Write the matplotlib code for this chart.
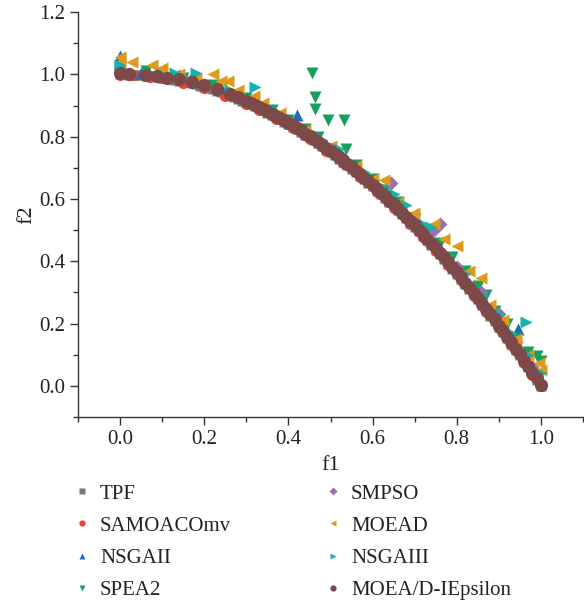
import matplotlib
matplotlib.use("Agg")
import matplotlib.pyplot as plt
from matplotlib.lines import Line2D
from matplotlib.ticker import MultipleLocator

plt.rcParams['font.family'] = ['Liberation Serif', 'DejaVu Serif']

# true Pareto front (TPF)
tpf_f1 = [0.00, 0.01, 0.02, 0.03, 0.04, 0.05, 0.06, 0.07, 0.08, 0.09,
          0.10, 0.11, 0.12, 0.13, 0.14, 0.15, 0.16, 0.17, 0.18, 0.19,
          0.20, 0.21, 0.22, 0.23, 0.24, 0.25, 0.26, 0.27, 0.28, 0.29,
          0.30, 0.31, 0.32, 0.33, 0.34, 0.35, 0.36, 0.37, 0.38, 0.39,
          0.40, 0.41, 0.42, 0.43, 0.44, 0.45, 0.46, 0.47, 0.48, 0.49,
          0.50, 0.51, 0.52, 0.53, 0.54, 0.55, 0.56, 0.57, 0.58, 0.59,
          0.60, 0.61, 0.62, 0.63, 0.64, 0.65, 0.66, 0.67, 0.68, 0.69,
          0.70, 0.71, 0.72, 0.73, 0.74, 0.75, 0.76, 0.77, 0.78, 0.79,
          0.80, 0.81, 0.82, 0.83, 0.84, 0.85, 0.86, 0.87, 0.88, 0.89,
          0.90, 0.91, 0.92, 0.93, 0.94, 0.95, 0.96, 0.97, 0.98, 0.99, 1.00]
tpf_f2 = [1.0000, 0.9999, 0.9996, 0.9991, 0.9984, 0.9975, 0.9964, 0.9951, 0.9936, 0.9919,
          0.9900, 0.9879, 0.9856, 0.9831, 0.9804, 0.9775, 0.9744, 0.9711, 0.9676, 0.9639,
          0.9600, 0.9559, 0.9516, 0.9471, 0.9424, 0.9375, 0.9324, 0.9271, 0.9216, 0.9159,
          0.9100, 0.9039, 0.8976, 0.8911, 0.8844, 0.8775, 0.8704, 0.8631, 0.8556, 0.8479,
          0.8400, 0.8319, 0.8236, 0.8151, 0.8064, 0.7975, 0.7884, 0.7791, 0.7696, 0.7599,
          0.7500, 0.7399, 0.7296, 0.7191, 0.7084, 0.6975, 0.6864, 0.6751, 0.6636, 0.6519,
          0.6400, 0.6279, 0.6156, 0.6031, 0.5904, 0.5775, 0.5644, 0.5511, 0.5376, 0.5239,
          0.5100, 0.4959, 0.4816, 0.4671, 0.4524, 0.4375, 0.4224, 0.4071, 0.3916, 0.3759,
          0.3600, 0.3439, 0.3276, 0.3111, 0.2944, 0.2775, 0.2604, 0.2431, 0.2256, 0.2079,
          0.1900, 0.1719, 0.1536, 0.1351, 0.1164, 0.0975, 0.0784, 0.0591, 0.0396, 0.0199, 0.0000]

samoaco_f1 = [0.00, 0.03, 0.07, 0.10, 0.15, 0.20, 0.25, 0.30, 0.33, 0.37,
              0.41, 0.45, 0.49, 0.53, 0.57, 0.61, 0.65, 0.69, 0.72, 0.75,
              0.78, 0.81, 0.84, 0.87, 0.90, 0.93, 0.96, 0.98, 1.00]
samoaco_f2 = [0.998, 0.997, 0.993, 0.987, 0.973, 0.955, 0.932, 0.905, 0.886, 0.858,
              0.827, 0.792, 0.755, 0.714, 0.670, 0.623, 0.572, 0.519, 0.477, 0.432,
              0.387, 0.339, 0.289, 0.238, 0.185, 0.130, 0.074, 0.036, 0.000]

nsgaii_f1 = [0.00, 0.00, 0.05, 0.12, 0.19, 0.24, 0.30, 0.36, 0.42, 0.44,
             0.50, 0.55, 0.60, 0.64, 0.68, 0.72, 0.76, 0.80, 0.84, 0.88,
             0.92, 0.945, 0.96, 0.98, 1.00]
nsgaii_f2 = [1.06, 1.04, 1.005, 0.995, 0.975, 0.955, 0.92, 0.885, 0.87, 0.82,
             0.765, 0.71, 0.655, 0.605, 0.555, 0.50, 0.44, 0.38, 0.315, 0.245,
             0.17, 0.183, 0.10, 0.06, 0.02]

spea2_f1 = [0.00, 0.06, 0.15, 0.22, 0.30, 0.36, 0.40, 0.44, 0.457, 0.462,
            0.464, 0.493, 0.531, 0.47, 0.536, 0.56, 0.60, 0.63, 0.66, 0.70,
            0.73, 0.76, 0.79, 0.82, 0.85, 0.87, 0.89, 0.92, 0.94, 0.97, 0.99, 1.00]
spea2_f2 = [1.02, 1.01, 0.99, 0.965, 0.925, 0.885, 0.855, 0.825, 1.006, 0.926,
            0.89, 0.852, 0.852, 0.80, 0.759, 0.71, 0.665, 0.63, 0.59, 0.535,
            0.50, 0.46, 0.415, 0.37, 0.32, 0.29, 0.24, 0.20, 0.15, 0.11, 0.095, 0.08]

smpso_f1 = [0.14, 0.17, 0.20, 0.28, 0.35, 0.41, 0.46, 0.52, 0.58, 0.643,
            0.70, 0.745, 0.76, 0.80, 0.857, 0.90, 0.94, 0.98]
smpso_f2 = [0.995, 0.985, 0.965, 0.93, 0.885, 0.84, 0.80, 0.745, 0.675, 0.65,
            0.53, 0.50, 0.52, 0.38, 0.30, 0.23, 0.14, 0.06]

moead_f1 = [0.00, 0.00, 0.029, 0.076, 0.10, 0.14, 0.18, 0.22, 0.24, 0.257,
            0.28, 0.317, 0.34, 0.38, 0.44, 0.50, 0.56, 0.60, 0.627, 0.66,
            0.698, 0.745, 0.77, 0.80, 0.83, 0.857, 0.88, 0.91, 0.94, 0.97,
            0.995, 1.00]
moead_f2 = [1.055, 1.04, 1.04, 1.03, 1.02, 1.00, 0.99, 1.00, 0.98, 0.978,
            0.95, 0.932, 0.907, 0.875, 0.82, 0.77, 0.705, 0.665, 0.662, 0.59,
            0.556, 0.52, 0.47, 0.45, 0.37, 0.347, 0.26, 0.21, 0.15, 0.10,
            0.074, 0.05]

nsgaiii_f1 = [0.00, 0.00, 0.10, 0.13, 0.18, 0.26, 0.321, 0.36, 0.42, 0.46,
              0.48, 0.52, 0.58, 0.62, 0.65, 0.68, 0.72, 0.74, 0.78, 0.82,
              0.86, 0.90, 0.93, 0.964, 0.97, 1.00]
nsgaiii_f2 = [1.03, 1.02, 1.00, 1.005, 1.003, 0.95, 0.961, 0.89, 0.84, 0.81,
              0.79, 0.76, 0.685, 0.64, 0.615, 0.58, 0.52, 0.51, 0.42, 0.36,
              0.29, 0.23, 0.17, 0.206, 0.10, 0.04]

moeadie_f1 = [0.00, 0.02, 0.06, 0.088, 0.11, 0.14, 0.17, 0.20, 0.23, 0.26,
              0.28, 0.30, 0.31, 0.32, 0.33, 0.34, 0.35, 0.36, 0.37, 0.38,
              0.39, 0.40, 0.41, 0.42, 0.43, 0.44, 0.45, 0.46, 0.47, 0.48,
              0.49, 0.50, 0.51, 0.52, 0.53, 0.54, 0.55, 0.56, 0.57, 0.58,
              0.59, 0.60, 0.61, 0.62, 0.63, 0.64, 0.65, 0.66, 0.67, 0.68,
              0.69, 0.70, 0.71, 0.72, 0.73, 0.74, 0.75, 0.76, 0.77, 0.78,
              0.79, 0.80, 0.81, 0.82, 0.83, 0.84, 0.85, 0.86, 0.87, 0.88,
              0.89, 0.90, 0.91, 0.92, 0.93, 0.94, 0.95, 0.96, 0.97, 0.98,
              0.99, 1.00]
moeadie_f2 = [1.003, 1.002, 0.999, 0.995, 0.99, 0.985, 0.976, 0.965, 0.952, 0.937,
              0.926, 0.914, 0.909, 0.902, 0.896, 0.888, 0.883, 0.874, 0.868, 0.860,
              0.853, 0.844, 0.837, 0.828, 0.820, 0.810, 0.803, 0.792, 0.784, 0.774,
              0.765, 0.754, 0.745, 0.734, 0.724, 0.713, 0.703, 0.691, 0.680, 0.668,
              0.657, 0.645, 0.633, 0.620, 0.608, 0.595, 0.583, 0.569, 0.556, 0.542,
              0.529, 0.515, 0.501, 0.486, 0.472, 0.457, 0.443, 0.427, 0.412, 0.396,
              0.381, 0.364, 0.349, 0.331, 0.316, 0.298, 0.283, 0.264, 0.248, 0.229,
              0.213, 0.193, 0.177, 0.156, 0.140, 0.118, 0.103, 0.079, 0.064, 0.040,
              0.025, 0.003]

series = [
    ('TPF', tpf_f1, tpf_f2, 's', '#777777', 7),
    ('SAMOACOmv', samoaco_f1, samoaco_f2, 'o', '#ea4335', 8),
    ('NSGAII', nsgaii_f1, nsgaii_f2, '^', '#1f6db4', 8),
    ('SPEA2', spea2_f1, spea2_f2, 'v', '#16a05d', 8),
    ('SMPSO', smpso_f1, smpso_f2, 'D', '#9a70b3', 7),
    ('MOEAD', moead_f1, moead_f2, '<', '#dd9a1c', 8),
    ('NSGAIII', nsgaiii_f1, nsgaiii_f2, '>', '#17b1ad', 8),
    ('MOEA/D-IEpsilon', moeadie_f1, moeadie_f2, 'o', '#7d4949', 9.5),
]

fig = plt.figure(figsize=(5.84, 6.06), dpi=100)
ax = fig.add_axes([0.134, 0.312, 0.864, 0.668])

handles = []
for name, xs, ys, mk, col, size in series:
    ax.plot(xs, ys, mk, color=col, ms=size, mec='none')
    # legend keys are all drawn small, same size
    handles.append(Line2D([], [], ls='none', marker=mk, color=col, mec='none',
                          ms=4.5 if mk != 'D' else 4.0, label=name))

ax.set_xlim(-0.1, 1.1)
ax.set_ylim(-0.1, 1.2)
ax.xaxis.set_minor_locator(MultipleLocator(0.1))
ax.yaxis.set_minor_locator(MultipleLocator(0.1))
ax.set_xticks([0.0, 0.2, 0.4, 0.6, 0.8, 1.0])
ax.set_yticks([0.0, 0.2, 0.4, 0.6, 0.8, 1.0, 1.2])
ax.xaxis.set_major_formatter(plt.FuncFormatter(lambda v, p: '%.1f' % v))
ax.yaxis.set_major_formatter(plt.FuncFormatter(lambda v, p: '%.1f' % v))

for s in ['top', 'right']:
    ax.spines[s].set_visible(False)
for s in ['left', 'bottom']:
    ax.spines[s].set_color('#333333')
    ax.spines[s].set_linewidth(1.0)
ax.tick_params(which='major', direction='out', length=6, width=1, color='#333333',
               labelsize=15, labelcolor='#222222')
ax.tick_params(which='minor', direction='out', length=3.5, width=1, color='#333333')

ax.set_xlabel('f1', fontsize=16, color='#222222', labelpad=5)
ax.set_ylabel('f2', fontsize=16, color='#222222', labelpad=2)

leg = fig.legend(handles=handles, loc='upper left', bbox_to_anchor=(0.112, 0.215),
                 ncol=2, frameon=False, fontsize=15, handlelength=0.8,
                 handletextpad=0.46, columnspacing=4.5, labelspacing=0.6,
                 borderaxespad=0)
for t in leg.get_texts():
    t.set_color('#222222')

fig.savefig('out.png', dpi=100)
